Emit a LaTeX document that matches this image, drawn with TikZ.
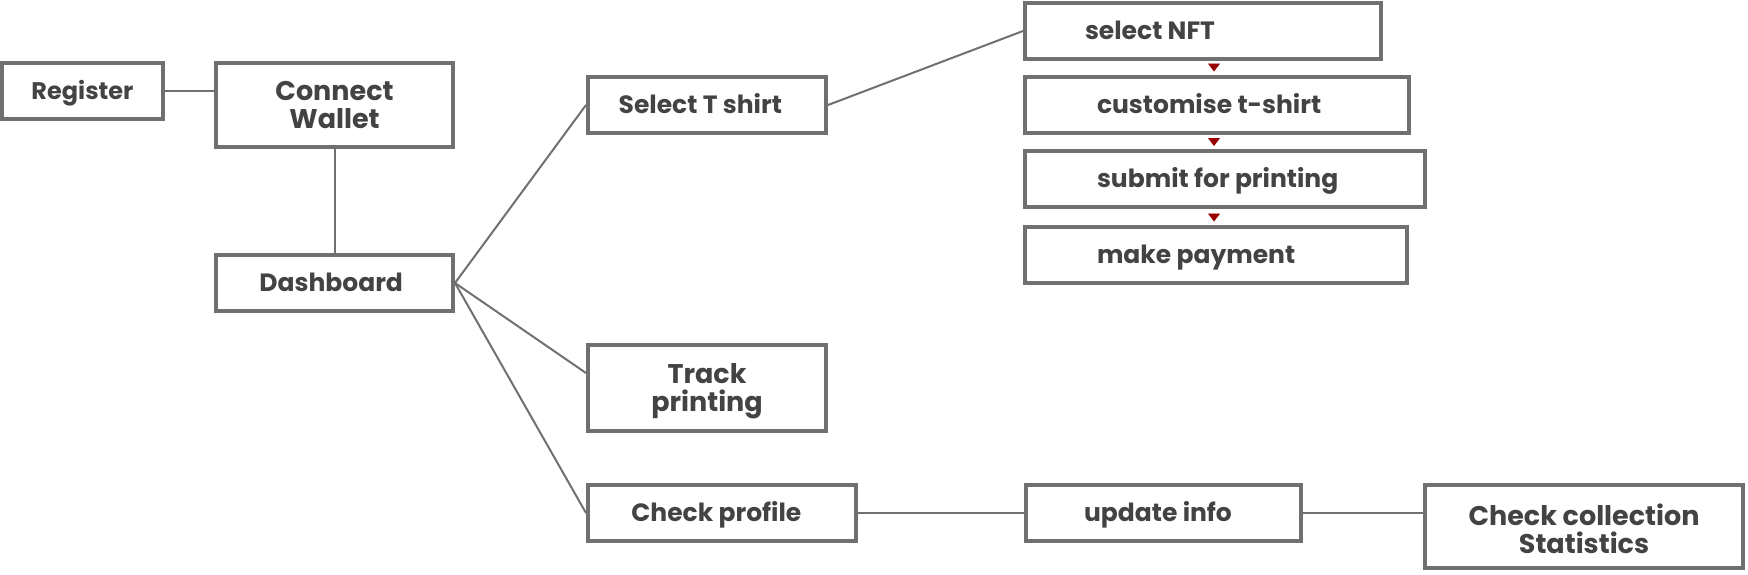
\documentclass[tikz,border=0pt]{standalone}
\usepackage{fontspec}
\setmainfont{Poppins}
\usetikzlibrary{arrows.meta}
\definecolor{boxgray}{HTML}{707070}
\definecolor{txtgray}{HTML}{434343}
\definecolor{tipred}{HTML}{990000}
\begin{document}
\begin{tikzpicture}[x=0.5pt,y=-0.5pt,
				every node/.style={draw=boxgray,line width=2pt,fill=white,text=txtgray,inner sep=0pt,align=center,
					font=\bfseries\fontsize{12.5}{14}\selectfont},
				small/.style={minimum height=28pt,text height=8.8pt,text depth=0pt},
				double/.style={font=\bfseries\fontsize{13.5}{14}\selectfont,text height=23.45pt,text depth=0pt},
				steptext/.style={draw=none,fill=none,anchor=west,text height=8.8pt,text depth=0pt},
				link/.style={draw=boxgray,line width=1pt},
				flow/.style={draw=tipred,fill=tipred,-{Triangle[width=6pt,length=4pt]},shorten <=2.5pt,shorten >=1.5pt}]
\useasboundingbox (0,0) rectangle (1748,574);
\node[small,minimum width=80.5pt,text height=8.4pt,font=\bfseries\fontsize{12}{14}\selectfont] (reg) at (82.5,91) {Register};
\node[double,minimum width=118.5pt,minimum height=42pt] (cw) at (334.5,105) {Connect\\Wallet};
\node[small,minimum width=118.5pt] (dash) at (334.5,283) {Dashboard\hspace{3.3pt}};
\node[small,minimum width=119pt] (sel) at (707,105) {Select T shirt\hspace{6.7pt}};
\node[double,minimum width=119pt,minimum height=43pt] (trk) at (707,388) {Track\\printing};
\node[small,minimum width=134pt] (chk) at (722,513) {Check profile\hspace{5.6pt}};
\node[small,minimum width=137.5pt] (upd) at (1163,513) {update info\hspace{5pt}};
\node[double,minimum width=159pt,minimum height=41.5pt,text height=26.9pt] (col) at (1584,526.5) {Check collection\\Statistics};
\node[small,minimum width=178pt] (nft) at (1203,31) {};
\node[small,minimum width=192pt] (cus) at (1217,104.5) {};
\node[small,minimum width=200pt] (sub) at (1225,179) {};
\node[small,minimum width=191pt] (pay) at (1216,254.5) {};
\node[steptext] (nft-t) at ([xshift=30pt]nft.west) {select NFT};
\node[steptext] (cus-t) at ([xshift=36pt]cus.west) {customise t-shirt};
\node[steptext] (sub-t) at ([xshift=36pt]sub.west) {submit for printing};
\node[steptext] (pay-t) at ([xshift=36pt]pay.west) {make payment};
\coordinate (ax) at (1214,0);
\draw[link] (reg.east) -- (reg.east -| cw.west);
\draw[link] (cw.south) -- (dash.north);
\draw[link] (dash.east) -- (sel.west);
\draw[link] (dash.east) -- ([yshift=7.5pt]trk.west);
\draw[link] (dash.east) -- (chk.west);
\draw[link] (sel.east) -- (nft.west);
\draw[link] (chk.east) -- (upd.west);
\draw[link] (upd.east) -- (upd.east -| col.west);
\draw[flow] (nft.south -| ax) -- (cus.north -| ax);
\draw[flow] (cus.south -| ax) -- (sub.north -| ax);
\draw[flow] (sub.south -| ax) -- (pay.north -| ax);
\end{tikzpicture}
\end{document}
